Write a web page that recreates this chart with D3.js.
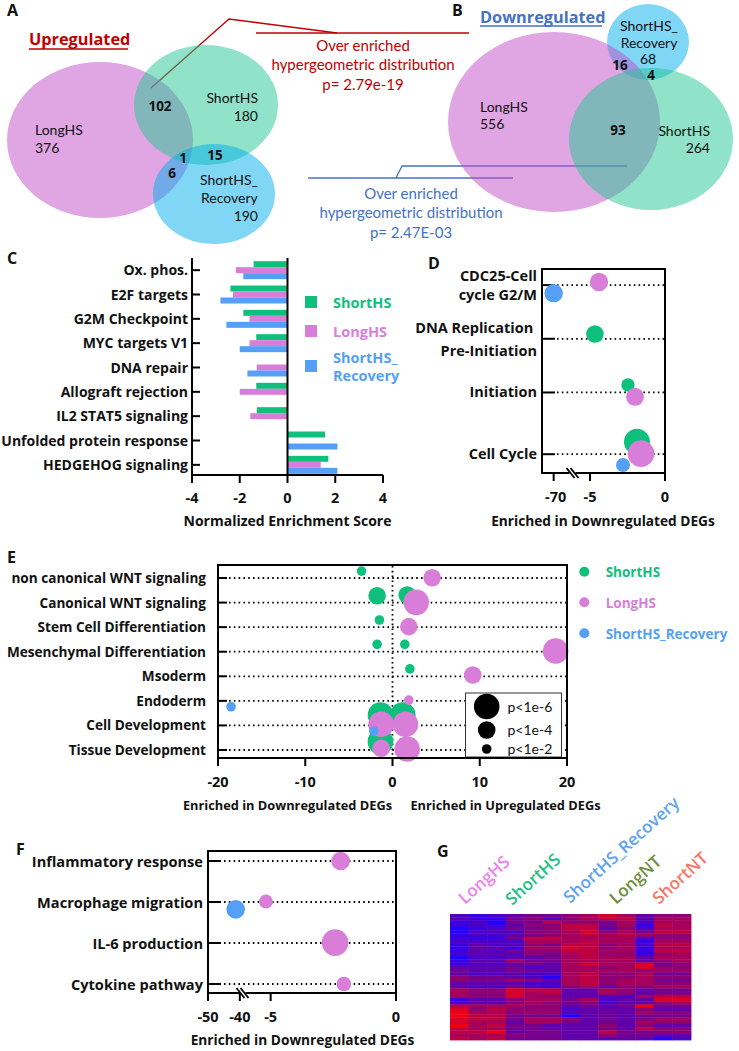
<!DOCTYPE html>
<html><head><meta charset="utf-8">
<script src="https://cdn.jsdelivr.net/npm/d3@7"></script>
<style>body{margin:0;background:#fff}svg{display:block;font-family:'Open Sans',Lato,sans-serif}</style>
</head><body>
<svg id="fig" width="739" height="1051"></svg>
<script>
// ---------- DATA ----------
const setNames = ["LongHS", "ShortHS", "ShortHS_Recovery"];
const upCounts = [376, 180, 190];
const upOverlaps = [102, 1, 15, 6];        // Long∩Short, all three, Short∩Rec, Long∩Rec
const downCounts = [556, 264, 68];
const downOverlaps = [93, 16, 4];          // Long∩Short, Long∩Rec, Short∩Rec
const calloutLines = ["Over enriched", "hypergeometric distribution"];
const pUp = "p= 2.79e-19";
const pDown = "p= 2.47E-03";

// Panel C: hallmark NES
const hallmarkCats = ["Ox. phos.", "E2F targets", "G2M Checkpoint", "MYC targets V1", "DNA repair",
  "Allograft rejection", "IL2 STAT5 signaling", "Unfolded protein response", "HEDGEHOG signaling"];
const nesShortHS  = [-1.42, -2.39, -1.85, -1.31, null, -1.31, -1.28, 1.57, 1.71];
const nesLongHS   = [-2.16, -2.28, -1.59, -1.59, -1.29, -2.00, -1.56, null, 1.39];
const nesRecovery = [-1.85, -2.81, -2.56, -2.00, -1.68, null, null, 2.09, 2.09];
const nesTicks = [-4, -2, 0, 2, 4];

// Panel D: cell-cycle pathways (enrichment x, y position value, -log10 p class)
const dCats = [["CDC25-Cell", "cycle G2/M"], ["DNA Replication\u00a0", "Pre-Initiation"], ["Initiation"], ["Cell Cycle"]];
const dCatY = [4, 3, 2, 0.85];
const dSeries = ["LongHS", "ShortHS_Recovery", "ShortHS", "ShortHS", "LongHS", "ShortHS", "LongHS", "ShortHS_Recovery"];
const dEnrich = [-4.4, -70, -4.67, -2.47, -2.0, -1.87, -1.6, -2.8];
const dY      = [4.06, 3.85, 3.09, 2.14, 1.92, 1.08, 0.86, 0.65];
const dLogP   = [4.2, 4.2, 4.0, 2.95, 4.1, 6.1, 6.25, 3.1];
const dTicks = [-70, -5, 0];

// Panel E: development pathways
const eCats = ["non canonical WNT signaling", "Canonical WNT signaling", "Stem Cell Differentiation",
  "Mesenchymal Differentiation", "Msoderm", "Endoderm", "Cell Development", "Tissue Development"];
const eCatY = [8, 7, 6, 5, 4, 3, 2, 1];
const eSeries = ["ShortHS","ShortHS","ShortHS","ShortHS","ShortHS","ShortHS","ShortHS","ShortHS","ShortHS","ShortHS",
  "LongHS","LongHS","LongHS","LongHS","LongHS","LongHS","LongHS","LongHS","LongHS","LongHS",
  "ShortHS_Recovery","ShortHS_Recovery"];
const eEnrich = [-3.55, -1.76, 1.68, -1.5, -1.76, 1.41, 1.99, -1.38, 1.18, -1.38,
  4.55, 2.72, 1.87, 18.7, 9.2, 1.87, -1.3, 1.49, -1.3, 1.68,
  -18.5, -2.14];
const eY = [8.28, 7.28, 7.31, 6.29, 5.30, 5.30, 4.30, 2.42, 2.42, 1.34,
  8.01, 7.01, 6.02, 5.03, 4.05, 3.03, 2.05, 2.05, 1.07, 1.04,
  2.76, 1.77];
const eLogP = [2, 4, 4, 2, 2, 2, 2, 6, 6, 6,
  4, 6, 4, 6, 4, 2, 6, 6, 4, 6,
  2, 2];
const eTicks = [-20, -10, 0, 10, 20];
const sizeLegend = [6, 4, 2];
const sizeLegendLabels = ["p<1e-6", "p<1e-4", "p<1e-2"];

// Panel F: inflammation
const fCats = ["Inflammatory response", "Macrophage migration", "IL-6 production", "Cytokine pathway"];
const fCatY = [4, 3, 2, 1];
const fSeries = ["LongHS", "LongHS", "ShortHS_Recovery", "LongHS", "LongHS"];
const fEnrich = [-2.21, -5.19, -41.3, -2.43, -2.08];
const fY      = [4.0, 3.01, 2.82, 2.01, 1.0];
const fLogP   = [4.25, 3.1, 4.25, 6.25, 3.25];
const fTicks = [-50, -40, -5, 0];

// Panel G: heatmap (0 = blue/low ... 9 = red/high), 13 samples
const heatGroups = ["LongHS", "ShortHS", "ShortHS_Recovery", "LongNT", "ShortNT"];
const heatRows = [
  "2123445686355","3114525677366","1204475546266","1213557746176","0124457735266",
  "0222556856477","1223456767655","1114776666255","2222666766166","1323547756277",
  "1331668756166","1324557766177","2332546755156","0223346766366","1336446666356",
  "1223436866845","3334236656855","4334436666566","3223226755644","5443206755655",
  "5446536756644","3333226756655","3224215635566","6558773365344","6558673365344",
  "6558653322677","1335664623388","2335654523356","7666553434944","8575552333533",
  "9665663343655","9774440333444","8774665343466","8663664343655","9674433353533",
  "7664433343755","7793443374455","6665443354433","7674443333302"
];

// ---------- DRAWING ----------
const svg = d3.select("#fig");
const colors = {"LongHS": "#d97ed8", "ShortHS": "#0fbf7c", "ShortHS_Recovery": "#559ff6"};
const vennFill = {"LongHS": "#c14dc9", "ShortHS": "#21c591", "ShortHS_Recovery": "#00afeb"};
const rScale = d3.scaleLinear().domain([2, 6]).range([4.8, 12.8]);
const LATO = "Lato, 'Open Sans', sans-serif";

function txt(g, s, x, y, o = {}) {
  const t = g.append("text").attr("x", x).attr("y", y).text(s)
    .attr("font-size", o.size || 14).attr("font-weight", o.weight || 400)
    .attr("fill", o.fill || "#111").attr("text-anchor", o.anchor || "start");
  if (o.font) t.attr("font-family", o.font);
  return t;
}
function panelLetter(s, x, y) { txt(svg, s, x, y, {size: 16, weight: 700}); }
function vtxt(g, s, x, y, o = {}) { return txt(g, s, x, y, Object.assign({font: LATO, size: 14}, o)); }

// ----- Panel A -----
panelLetter("A", 7, 16);
const gA = svg.append("g");
gA.append("polyline").attr("points", "151,88 229,19 337,33").attr("fill", "none").attr("stroke", "#c00000").attr("stroke-width", 1.3);
gA.append("line").attr("x1", 256).attr("x2", 469).attr("y1", 33).attr("y2", 33).attr("stroke", "#c00000").attr("stroke-width", 1.3);
[[100, 140, 93, 78, 0], [206, 105, 72, 60, 1], [214, 194, 61, 50, 2]].forEach(e => {
  gA.append("ellipse").attr("cx", e[0]).attr("cy", e[1]).attr("rx", e[2]).attr("ry", e[3])
    .attr("fill", vennFill[setNames[e[4]]]).attr("fill-opacity", 0.5);
});
txt(gA, "Upregulated", 29, 45, {size: 16.3, weight: 700, fill: "#c00000"});
gA.append("line").attr("x1", 29).attr("x2", 128).attr("y1", 49).attr("y2", 49).attr("stroke", "#c00000").attr("stroke-width", 1.3);
vtxt(gA, setNames[0], 35, 135); vtxt(gA, upCounts[0], 35, 153);
vtxt(gA, setNames[1], 258, 103, {anchor: "end"}); vtxt(gA, upCounts[1], 258, 121, {anchor: "end"});
vtxt(gA, "ShortHS_", 200, 185); vtxt(gA, "Recovery", 201, 203); vtxt(gA, upCounts[2], 258, 221, {anchor: "end"});
txt(gA, upOverlaps[0], 160, 111, {weight: 700, anchor: "middle", size: 13.5});
txt(gA, upOverlaps[1], 183, 163, {weight: 700, anchor: "middle", size: 13.5});
txt(gA, upOverlaps[2], 215, 160, {weight: 700, anchor: "middle", size: 13.5});
txt(gA, upOverlaps[3], 172, 178, {weight: 700, anchor: "middle", size: 13.5});
vtxt(gA, calloutLines[0], 363, 51, {fill: "#c00000", anchor: "middle", size: 15});
vtxt(gA, calloutLines[1], 363, 70, {fill: "#c00000", anchor: "middle", size: 15});
vtxt(gA, pUp, 363, 90, {fill: "#c00000", anchor: "middle", size: 15});

// ----- Panel B -----
panelLetter("B", 452, 16);
const gB = svg.append("g");
gB.append("polyline").attr("points", "627,166 402,166 396,178").attr("fill", "none").attr("stroke", "#4472c4").attr("stroke-width", 1.3);
gB.append("line").attr("x1", 308).attr("x2", 513).attr("y1", 178).attr("y2", 178).attr("stroke", "#4472c4").attr("stroke-width", 1.3);
[[648, 42, 41, 38, 2], [554, 122, 106, 90, 0], [651, 139, 82, 71, 1]].forEach(e => {
  gB.append("ellipse").attr("cx", e[0]).attr("cy", e[1]).attr("rx", e[2]).attr("ry", e[3])
    .attr("fill", vennFill[setNames[e[4]]]).attr("fill-opacity", 0.5);
});
txt(gB, "Downregulated", 480, 23, {size: 16.3, weight: 700, fill: "#4472c4"});
gB.append("line").attr("x1", 480).attr("x2", 602).attr("y1", 26).attr("y2", 26).attr("stroke", "#4472c4").attr("stroke-width", 1.3);
vtxt(gB, setNames[0], 480, 112); vtxt(gB, downCounts[0], 480, 129);
vtxt(gB, setNames[1], 710, 136, {anchor: "end"}); vtxt(gB, downCounts[1], 710, 153, {anchor: "end"});
vtxt(gB, "ShortHS_", 649, 31, {anchor: "middle"}); vtxt(gB, "Recovery", 649, 48, {anchor: "middle"}); vtxt(gB, downCounts[2], 648, 64, {anchor: "middle"});
txt(gB, downOverlaps[0], 618, 135, {weight: 700, anchor: "middle", size: 13.5});
txt(gB, downOverlaps[1], 620, 70, {weight: 700, anchor: "middle", size: 13.5});
txt(gB, downOverlaps[2], 651, 80, {weight: 700, anchor: "middle", size: 13.5});
vtxt(gB, calloutLines[0], 411, 199, {fill: "#4472c4", anchor: "middle", size: 15});
vtxt(gB, calloutLines[1], 411, 218, {fill: "#4472c4", anchor: "middle", size: 15});
vtxt(gB, pDown, 411, 238, {fill: "#4472c4", anchor: "middle", size: 15});

// ----- Panel C -----
panelLetter("C", 7, 264);
const gC = svg.append("g");
const cX = d3.scaleLinear().domain([-4, 4]).range([192, 383]);
const cY = d3.scaleBand().domain(hallmarkCats).range([258, 477]);
const cSeries = [["ShortHS", nesShortHS], ["LongHS", nesLongHS], ["ShortHS_Recovery", nesRecovery]];
const cSub = d3.scaleBand().domain(cSeries.map(d => d[0])).range([-9, 9]);
cSeries.forEach(([name, vals]) => {
  gC.selectAll(null).data(hallmarkCats.map((c, i) => ({c, v: vals[i]})).filter(d => d.v !== null))
    .join("rect")
    .attr("x", d => Math.min(cX(0), cX(d.v))).attr("width", d => Math.abs(cX(d.v) - cX(0)))
    .attr("y", d => cY(d.c) + cY.bandwidth() / 2 + cSub(name)).attr("height", cSub.bandwidth())
    .attr("fill", colors[name]);
});
const axStroke = (sel) => sel.attr("stroke", "#000").attr("stroke-width", 2);
axStroke(gC.append("line").attr("x1", 192).attr("x2", 192).attr("y1", 258).attr("y2", 476));
axStroke(gC.append("line").attr("x1", 191).attr("x2", 383).attr("y1", 475).attr("y2", 475));
axStroke(gC.append("line").attr("x1", cX(0)).attr("x2", cX(0)).attr("y1", 258).attr("y2", 476));
hallmarkCats.forEach(c => {
  const y = cY(c) + cY.bandwidth() / 2;
  axStroke(gC.append("line").attr("x1", 192).attr("x2", 200).attr("y1", y).attr("y2", y));
  txt(gC, c, 188, y + 5, {weight: 700, anchor: "end", size: 14});
});
nesTicks.forEach(t => {
  axStroke(gC.append("line").attr("x1", cX(t)).attr("x2", cX(t)).attr("y1", 475).attr("y2", 483));
  txt(gC, t, cX(t), 503, {weight: 700, anchor: "middle", size: 14.5});
});
txt(gC, "Normalized Enrichment Score", cX(0), 526, {weight: 700, anchor: "middle", size: 14});
const cLegY = [302, 331, 366];
cSeries.forEach(([name], i) => {
  gC.append("rect").attr("x", 305).attr("y", cLegY[i] - 6).attr("width", 12).attr("height", 12).attr("fill", colors[name]);
});
txt(gC, "ShortHS", 333, 308, {weight: 700, size: 14.5, fill: colors.ShortHS});
txt(gC, "LongHS", 333, 337, {weight: 700, size: 14.5, fill: colors.LongHS});
txt(gC, "ShortHS_", 333, 363, {weight: 700, size: 14.5, fill: colors.ShortHS_Recovery});
txt(gC, "Recovery", 333, 381, {weight: 700, size: 14.5, fill: colors.ShortHS_Recovery});

// helper for bubble panels
function dotted(g, x1, x2, y) {
  g.append("line").attr("x1", x1).attr("x2", x2).attr("y1", y).attr("y2", y)
    .attr("stroke", "#000").attr("stroke-width", 1.8).attr("stroke-dasharray", "1.6,3.2");
}
function box(g, l, r, t, b) {
  g.append("rect").attr("x", l).attr("y", t).attr("width", r - l).attr("height", b - t)
    .attr("fill", "none").attr("stroke", "#000").attr("stroke-width", 2);
}
function breakMark(g, x, y) {
  g.append("rect").attr("x", x - 3).attr("y", y - 2).attr("width", 6).attr("height", 4).attr("fill", "#fff");
  [-2, 2].forEach(o => g.append("line").attr("x1", x + o - 4).attr("y1", y - 5).attr("x2", x + o + 4).attr("y2", y + 5)
    .attr("stroke", "#000").attr("stroke-width", 1.8));
}
function bubbles(g, series, xs, ys, ps, xFn, yS) {
  const pts = series.map((s, i) => ({s, x: xs[i], y: ys[i], p: ps[i]}));
  const order = ["ShortHS", "LongHS", "ShortHS_Recovery"];
  pts.sort((a, b) => order.indexOf(a.s) - order.indexOf(b.s));
  g.selectAll(null).data(pts).join("circle")
    .attr("cx", d => xFn(d.x)).attr("cy", d => yS(d.y)).attr("r", d => rScale(d.p))
    .attr("fill", d => colors[d.s]);
}

// ----- Panel D -----
panelLetter("D", 428, 269);
const gD = svg.append("g");
const dSeg1 = d3.scaleLinear().domain([-75, -63]).range([542, 570]);
const dSeg2 = d3.scaleLinear().domain([-6, 0]).range([575, 665]);
const dX = v => v < -6 ? dSeg1(v) : dSeg2(v);
const dYS = d3.scaleLinear().domain([0.5, 4.3]).range([473, 269]);
dCatY.forEach((cy, i) => {
  const y = dYS(cy);
  dotted(gD, 557, 664, y);
  axStroke(gD.append("line").attr("x1", 542).attr("x2", 555).attr("y1", y).attr("y2", y));
  const ls = dCats[i];
  if (ls.length === 1) txt(gD, ls[0], 537, y + 5, {weight: 700, size: 14.5, anchor: "end"});
  else {
    txt(gD, ls[0], 537, y - 4 + (i === 1 ? -2 : 0), {weight: 700, size: 14.5, anchor: "end"});
    txt(gD, ls[1], 537, y + 15 + (i === 1 ? 2 : 0), {weight: 700, size: 14.5, anchor: "end"});
  }
});
bubbles(gD, dSeries, dEnrich, dY, dLogP, dX, dYS);
box(gD, 542, 665, 269, 473);
breakMark(gD, 572.5, 473);
dTicks.forEach(t => {
  axStroke(gD.append("line").attr("x1", dX(t)).attr("x2", dX(t)).attr("y1", 473).attr("y2", 481));
  txt(gD, t, dX(t) + (t === -70 ? 2 : 0), 502, {weight: 700, size: 14.5, anchor: "middle"});
});
txt(gD, "Enriched in Downregulated DEGs", 603, 526, {weight: 700, size: 13.7, anchor: "middle"});

// ----- Panel E -----
panelLetter("E", 7, 563);
const gE = svg.append("g");
const eX = d3.scaleLinear().domain([-20, 20]).range([218, 567]);
const eYS = d3.scaleLinear().domain([1, 8]).range([750, 578]);
eCats.forEach((c, i) => {
  const y = eYS(eCatY[i]);
  dotted(gE, 229, 566, y);
  axStroke(gE.append("line").attr("x1", 218).attr("x2", 227).attr("y1", y).attr("y2", y));
  txt(gE, c, 206, y + 5, {weight: 700, size: 13.6, anchor: "end"});
});
gE.append("line").attr("x1", eX(0)).attr("x2", eX(0)).attr("y1", 566).attr("y2", 757)
  .attr("stroke", "#000").attr("stroke-width", 1.8).attr("stroke-dasharray", "1.6,3.2");
bubbles(gE, eSeries, eEnrich, eY, eLogP, eX, eYS);
// size legend
gE.append("rect").attr("x", 465.5).attr("y", 693).attr("width", 96).attr("height", 64)
  .attr("fill", "#fff").attr("stroke", "#333").attr("stroke-width", 1);
const legY = [706.5, 730, 749];
sizeLegend.forEach((p, i) => {
  gE.append("circle").attr("cx", 486.7).attr("cy", legY[i]).attr("r", rScale(p)).attr("fill", "#000");
  vtxt(gE, sizeLegendLabels[i], 507.5, legY[i] + 5, {size: 14});
});
box(gE, 218, 567, 565, 758);
eTicks.forEach(t => {
  axStroke(gE.append("line").attr("x1", eX(t)).attr("x2", eX(t)).attr("y1", 758).attr("y2", 766));
  txt(gE, t, eX(t), 787, {weight: 700, size: 14.5, anchor: "middle"});
});
txt(gE, "Enriched in Downregulated DEGs", 287.5, 810, {weight: 700, size: 12.8, anchor: "middle"});
txt(gE, "Enriched in Upregulated DEGs", 505.5, 810, {weight: 700, size: 12.8, anchor: "middle"});
const eLeg = [["ShortHS", 571.7, 576.7], ["LongHS", 602.3, 607.7], ["ShortHS_Recovery", 633.3, 638.5]];
eLeg.forEach(([n, cy, ty]) => {
  gE.append("circle").attr("cx", 584.3).attr("cy", cy).attr("r", 5).attr("fill", colors[n]);
  txt(gE, n, 605.7, ty, {weight: 700, size: 13.5, fill: colors[n]});
});

// ----- Panel F -----
panelLetter("F", 16, 855);
const gF = svg.append("g");
const fSeg1 = d3.scaleLinear().domain([-50, -39]).range([208, 243]);
const fSeg2 = d3.scaleLinear().domain([-6, 0]).range([245.6, 396]);
const fX = v => v < -6 ? fSeg1(v) : fSeg2(v);
const fYS = d3.scaleLinear().domain([1, 4]).range([984, 861]);
fCats.forEach((c, i) => {
  const y = fYS(fCatY[i]);
  dotted(gF, 224, 395, y);
  axStroke(gF.append("line").attr("x1", 208).attr("x2", 221).attr("y1", y).attr("y2", y));
  txt(gF, c, 203, y + 5.5, {weight: 700, size: 14.6, anchor: "end"});
});
bubbles(gF, fSeries, fEnrich, fY, fLogP, fX, fYS);
box(gF, 208, 396, 851, 993);
breakMark(gF, 242.5, 993);
fTicks.forEach(t => {
  axStroke(gF.append("line").attr("x1", fX(t)).attr("x2", fX(t)).attr("y1", 993).attr("y2", 1001));
  txt(gF, t, fX(t), 1022, {weight: 700, size: 14.5, anchor: "middle"});
});
txt(gF, "Enriched in Downregulated DEGs", 302.5, 1045, {weight: 700, size: 13.7, anchor: "middle"});

// ----- Panel G -----
panelLetter("G", 437, 857);
const gG = svg.append("g");
const nCols = heatRows[0].length;
const hx = d3.scaleBand().domain(d3.range(nCols)).range([450, 691]);
const hy = d3.scaleBand().domain(d3.range(heatRows.length)).range([914, 1040]);
const hColor = d3.scaleLinear().domain([0, 4.5, 9]).range(["#2400ff", "#80007f", "#ee0012"]).interpolate(d3.interpolateRgb);
const cells = [];
heatRows.forEach((r, i) => r.split("").forEach((v, j) => cells.push({i, j, v: +v})));
gG.selectAll(null).data(cells).join("rect")
  .attr("x", d => hx(d.j)).attr("y", d => hy(d.i))
  .attr("width", hx.bandwidth() + 0.4).attr("height", hy.bandwidth() + 0.4)
  .attr("fill", d => hColor(d.v));
const gLabCol = {"LongHS": "#ee82ee", "ShortHS": "#1fbf85", "ShortHS_Recovery": "#5ea3f2", "LongNT": "#6f8f3c", "ShortNT": "#f7766a"};
const gLabPos = [[465, 905], [512, 906], [570, 904], [616, 905], [659, 905]];
heatGroups.forEach((n, i) => {
  gG.append("text").attr("transform", `translate(${gLabPos[i][0]},${gLabPos[i][1]}) rotate(-42)`)
    .text(n).attr("font-size", 17).attr("font-weight", 600).attr("fill", gLabCol[n]);
});
</script>
</body></html>
